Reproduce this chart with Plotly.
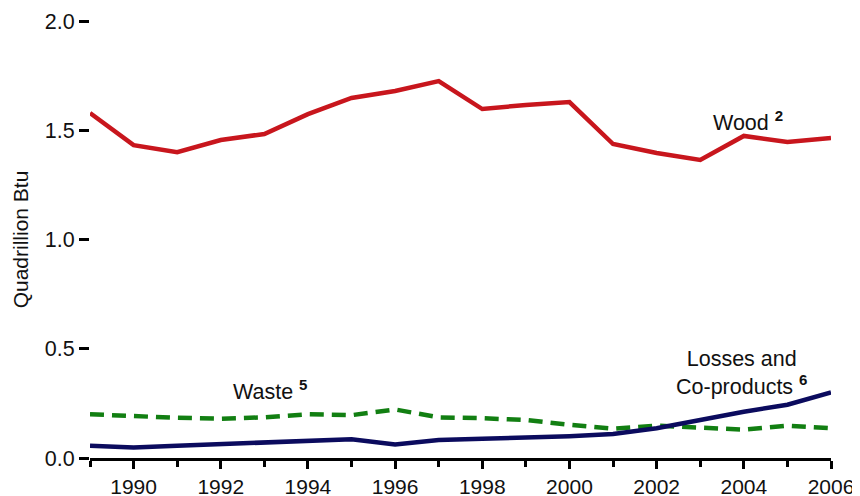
import plotly.graph_objects as go

years = list(range(1989, 2007))
wood = [1.579, 1.432, 1.40, 1.455, 1.483, 1.574, 1.648, 1.68, 1.725, 1.597, 1.616, 1.629,
        1.437, 1.396, 1.364, 1.474, 1.446, 1.465]
waste = [0.200, 0.190, 0.184, 0.180, 0.186, 0.200, 0.196, 0.222, 0.186, 0.182, 0.174, 0.152,
         0.134, 0.148, 0.140, 0.130, 0.148, 0.136]
losses = [0.056, 0.048, 0.056, 0.064, 0.074, 0.082, 0.086, 0.062, 0.082, 0.088, 0.092, 0.100,
          0.110, 0.136, 0.174, 0.212, 0.244, 0.300]
x_tickvals = [y for y in years if y % 2 == 0]
x_ticktext = [str(y) for y in x_tickvals]
y_tickvals = [0.0, 0.5, 1.0, 1.5, 2.0]
y_ticktext = ["0.0", "0.5", "1.0", "1.5", "2.0"]

fig = go.Figure()
fig.add_trace(go.Scatter(x=years, y=wood, mode="lines",
                         line=dict(color="#C8161D", width=4.5), name="Wood", cliponaxis=False))
fig.add_trace(go.Scatter(x=years, y=waste, mode="lines",
                         line=dict(color="#127F12", width=4.5, dash="14px,8px"), name="Waste", cliponaxis=False))
fig.add_trace(go.Scatter(x=years, y=losses, mode="lines",
                         line=dict(color="#0B0B5E", width=4.5), name="Losses", cliponaxis=False))

fam = "Liberation Sans"
font = dict(family=fam, size=21.5, color="#111111")
xfont = dict(family=fam, size=21, color="#111111")
# page body adds an 8px offset; figure sized to fit the 860x496 window
fig.update_layout(
    width=852, height=488,
    margin=dict(l=82, r=29, t=13, b=38),
    paper_bgcolor="white", plot_bgcolor="white",
    showlegend=False,
    font=font,
    xaxis=dict(range=[1989, 2006], tickmode="array", tickvals=x_tickvals, ticktext=x_ticktext,
               ticks="outside", ticklen=8, tickwidth=2.5, tickcolor="black",
               minor=dict(tickmode="linear", tick0=1989, dtick=1, ticks="outside",
                          ticklen=6, tickwidth=2.5, tickcolor="black", showgrid=False),
               showline=True, linecolor="black", linewidth=2.5,
               showgrid=False, zeroline=False, tickfont=xfont, automargin=False),
    yaxis=dict(range=[0, 2.0], tickvals=y_tickvals, ticktext=y_ticktext,
               ticks="outside", ticklen=10, tickwidth=2.5, tickcolor="black",
               showline=False, showgrid=False, zeroline=False, tickfont=font, automargin=False,
               title=dict(text="Quadrillion Btu", font=dict(family=fam, size=21, color="#111111"),
                          standoff=10)),
)

ann_font = dict(family=fam, size=21.5, color="#111111")
fig.add_annotation(x=2004.1, y=1.542, text="Wood <b><sup>2</sup></b>", showarrow=False,
                   font=ann_font, xanchor="center", yanchor="middle")
fig.add_annotation(x=1993.12, y=0.311, text="Waste <b><sup>5</sup></b>", showarrow=False,
                   font=ann_font, xanchor="center", yanchor="middle")
fig.add_annotation(x=2003.95, y=0.389, text="Losses and<br>Co-products <b><sup>6</sup></b>", showarrow=False,
                   font=ann_font, xanchor="center", yanchor="middle", align="center")

fig.write_html("out.html")
